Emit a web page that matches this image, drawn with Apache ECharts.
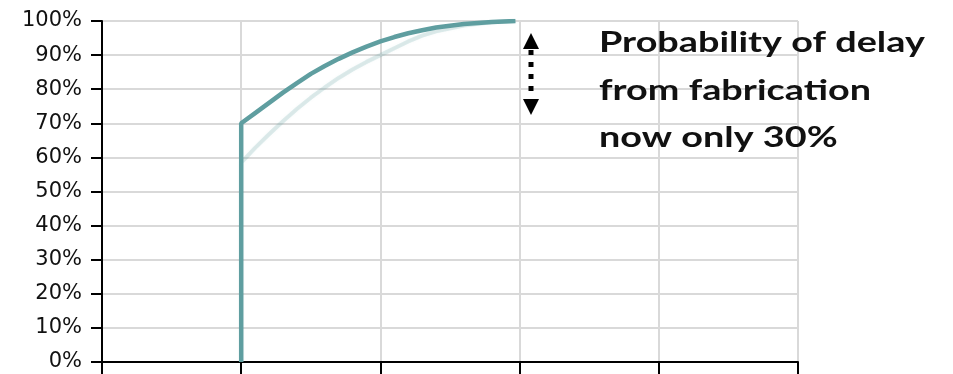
<!DOCTYPE html>
<html>
<head>
<meta charset="utf-8">
<script src="https://cdn.jsdelivr.net/npm/echarts@6/dist/echarts.min.js"></script>
<style>
  html, body { margin: 0; padding: 0; background: #ffffff; }
  #chart { width: 953px; height: 374px; }
</style>
</head>
<body>
<div id="chart"></div>
<script>
// Cumulative probability of completion (x in schedule units, y as fraction)
const currentX = [1, 1, 1.1, 1.2, 1.3, 1.4, 1.5, 1.6, 1.7, 1.8, 1.9, 2.0, 2.1, 2.2, 2.3, 2.4, 2.6, 2.8, 2.97];
const currentY = [0, 0.70, 0.73, 0.76, 0.79, 0.818, 0.845, 0.868, 0.889, 0.908, 0.925, 0.94, 0.953, 0.964, 0.973, 0.981, 0.991, 0.997, 1.0];

const previousX = [1, 1, 1.1, 1.2, 1.3, 1.4, 1.5, 1.6, 1.7, 1.8, 1.9, 2.0, 2.1, 2.2, 2.3, 2.4, 2.6, 2.8, 2.97];
const previousY = [0, 0.585, 0.628, 0.668, 0.706, 0.742, 0.775, 0.805, 0.833, 0.858, 0.88, 0.90, 0.92, 0.94, 0.957, 0.97, 0.987, 0.996, 1.0];

const yTicks = [0, 0.1, 0.2, 0.3, 0.4, 0.5, 0.6, 0.7, 0.8, 0.9, 1.0];
const noteLines = ['Probability of delay', 'from fabrication', 'now only 30%'];

const teal = '#5f9ea0';
const pair = (xs, ys) => xs.map((x, i) => [x, ys[i]]);

const chart = echarts.init(document.getElementById('chart'), null, { renderer: 'canvas' });

chart.setOption({
  animation: false,
  grid: { left: 102, top: 21, width: 696, height: 341, containLabel: false },
  xAxis: {
    type: 'value',
    min: 0, max: 5, interval: 1,
    axisLine: { show: true, onZero: false, lineStyle: { color: '#000', width: 2 } },
    axisTick: { show: true, length: 14, lineStyle: { color: '#000', width: 2 } },
    axisLabel: { show: false },
    splitLine: { show: true, lineStyle: { color: '#d9d9d9', width: 2 } }
  },
  yAxis: {
    type: 'value',
    min: 0, max: 1, interval: 0.1,
    axisLine: { show: true, lineStyle: { color: '#000', width: 2 } },
    axisTick: { show: true, length: 11, lineStyle: { color: '#000', width: 2 } },
    axisLabel: {
      margin: 20,
      color: '#111',
      fontFamily: 'DejaVu Sans',
      fontSize: 21,
      formatter: v => {
        const t = yTicks.find(k => Math.abs(k - v) < 1e-6);
        return Math.round((t === undefined ? v : t) * 100) + '%';
      }
    },
    splitLine: { show: true, lineStyle: { color: '#d9d9d9', width: 2 } }
  },
  series: [
    {
      name: 'previous',
      type: 'line',
      data: pair(previousX, previousY),
      showSymbol: false,
      z: 2,
      lineStyle: { color: 'rgba(95,158,160,0.2)', width: 4, shadowBlur: 3, shadowColor: 'rgba(95,158,160,0.25)' }
    },
    {
      name: 'current',
      type: 'line',
      data: pair(currentX, currentY),
      showSymbol: false,
      z: 3,
      lineStyle: { color: teal, width: 4.5 }
    }
  ]
});

// annotation: dotted double arrow and note text
const noteY = [43, 90.5, 138];
const noteGraphics = noteLines.map((t, i) => ({
  type: 'text',
  x: 599,
  y: noteY[i],
  scaleX: 1.35,
  z: 100,
  style: {
    text: t,
    fill: '#111',
    fontSize: 28,
    fontWeight: 'bold',
    fontFamily: 'Lato',
    align: 'left',
    verticalAlign: 'middle'
  }
}));

chart.setOption({
  graphic: [
    { type: 'polygon', z: 100, shape: { points: [[531, 33], [523, 49], [539, 49]] }, style: { fill: '#000' } },
    { type: 'polygon', z: 100, shape: { points: [[531, 115], [523, 99], [539, 99]] }, style: { fill: '#000' } },
    { type: 'line', z: 100, shape: { x1: 531, y1: 50, x2: 531, y2: 98 }, style: { stroke: '#000', lineWidth: 5, lineDash: [5, 7] } },
    ...noteGraphics
  ]
});
</script>
</body>
</html>
